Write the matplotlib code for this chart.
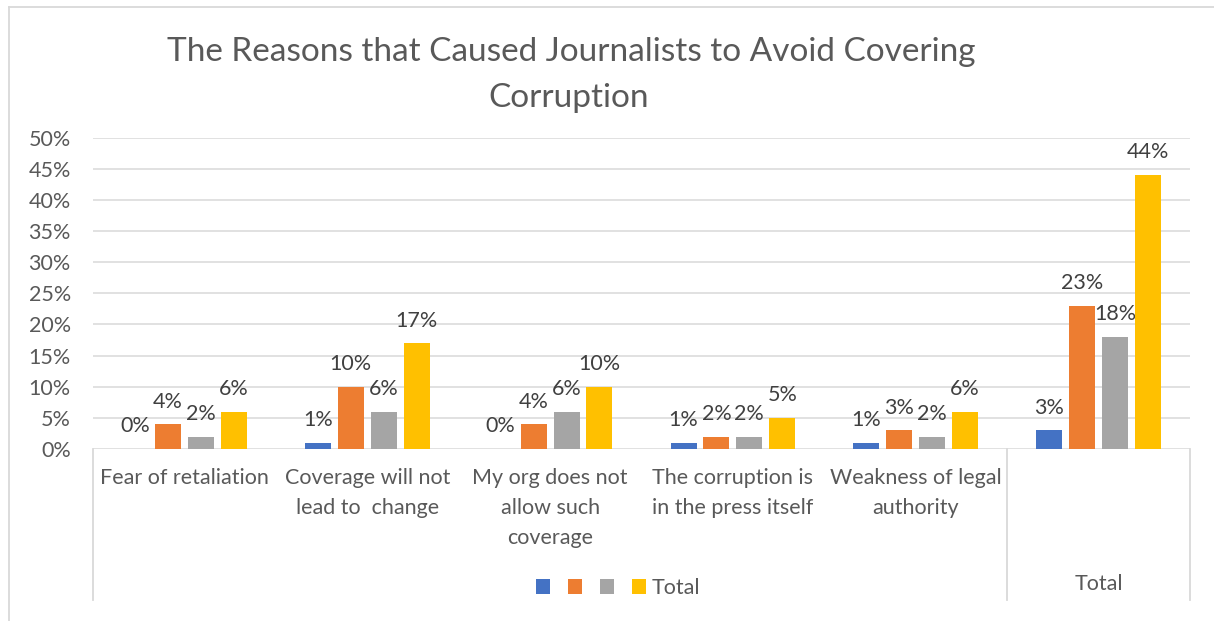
import matplotlib
matplotlib.use("Agg")
import matplotlib.pyplot as plt
from matplotlib.lines import Line2D
from matplotlib.ticker import FuncFormatter, MultipleLocator

plt.rcParams['font.family'] = ['Lato', 'DejaVu Sans']

# survey results, percent of journalists
reasons = ["Fear of retaliation",
           "Coverage will not\nlead to  change",
           "My org does not\nallow such\ncoverage",
           "The corruption is\nin the press itself",
           "Weakness of legal\nauthority",
           ""]
series_names = ["", "", "", "Total"]
blue_vals = [0, 1, 0, 1, 1, 3]
orange_vals = [4, 10, 4, 2, 3, 23]
gray_vals = [2, 6, 6, 2, 2, 18]
yellow_vals = [6, 17, 10, 5, 6, 44]
outer_label = "Total"
title_lines = ["The Reasons that Caused Journalists to Avoid Covering",
               "Corruption"]

colors = ["#4472C4", "#ED7D31", "#A5A5A5", "#FFC000"]
text_col = "#595959"
grid_col = "#D9D9D9"
fs = 15.5

W, H = 1214, 621
fig = plt.figure(figsize=(W / 100, H / 100), dpi=100)

def fx(px):
    return px / W

def fy(py):
    return 1 - py / H

ax = fig.add_axes([fx(93), fy(449), fx(1190) - fx(93), fy(137.5) - fy(449)])

step = 0.18
width = 0.142
all_vals = [blue_vals, orange_vals, gray_vals, yellow_vals]
containers = []
for k, vals in enumerate(all_vals):
    xs = [i + (k - 1.5) * step for i in range(len(vals))]
    bars = ax.bar(xs, [v / 100 for v in vals], width, color=colors[k], zorder=3)
    ax.bar_label(bars, labels=[f"{v}%" for v in vals], padding=9,
                 fontsize=fs, color="#404040")
    containers.append(bars)

ax.set_xlim(-0.5, 5.5)
ax.set_ylim(0, 0.5)
ax.yaxis.set_major_locator(MultipleLocator(0.05))
ax.yaxis.set_major_formatter(FuncFormatter(lambda v, p: f"{round(v * 100)}%"))
ax.grid(axis="y", color=grid_col, linewidth=1.1, zorder=0)
for s in ax.spines.values():
    s.set_visible(False)
ax.tick_params(axis="y", length=0, pad=16, labelsize=fs, labelcolor=text_col)
ax.set_xticks(range(len(reasons)))
ax.set_xticklabels(reasons, fontsize=fs, color=text_col, linespacing=1.6)
ax.tick_params(axis="x", length=0, pad=14)

# group separators below the category axis
tr = ax.get_xaxis_transform()
for xb in [-0.5, 4.5, 5.5]:
    ax.plot([xb, xb], [0, -0.485], transform=tr, color=grid_col,
            linewidth=1.3, clip_on=False)
fig.text(fx(1099), fy(584), outer_label, ha="center", va="center",
         fontsize=fs, color=text_col)

# chart frame
fig.add_artist(Line2D([fx(9), fx(9)], [0, fy(7)], color=grid_col, linewidth=1.3))
fig.add_artist(Line2D([fx(9), 1], [fy(7), fy(7)], color=grid_col, linewidth=1.3))

fig.text(fx(571), fy(61), title_lines[0], ha="center", va="baseline",
         fontsize=24, color=text_col)
fig.text(fx(569), fy(107), title_lines[1], ha="center", va="baseline",
         fontsize=24, color=text_col)

fig.legend(containers, series_names, loc="center left",
           bbox_to_anchor=(fx(536), fy(588)), ncol=4,
           frameon=False, fontsize=fs, handlelength=0.65, handleheight=0.65,
           handletextpad=0.24, columnspacing=0.6, borderpad=0,
           borderaxespad=0, labelcolor=text_col)

fig.savefig("out.png", dpi=100)
